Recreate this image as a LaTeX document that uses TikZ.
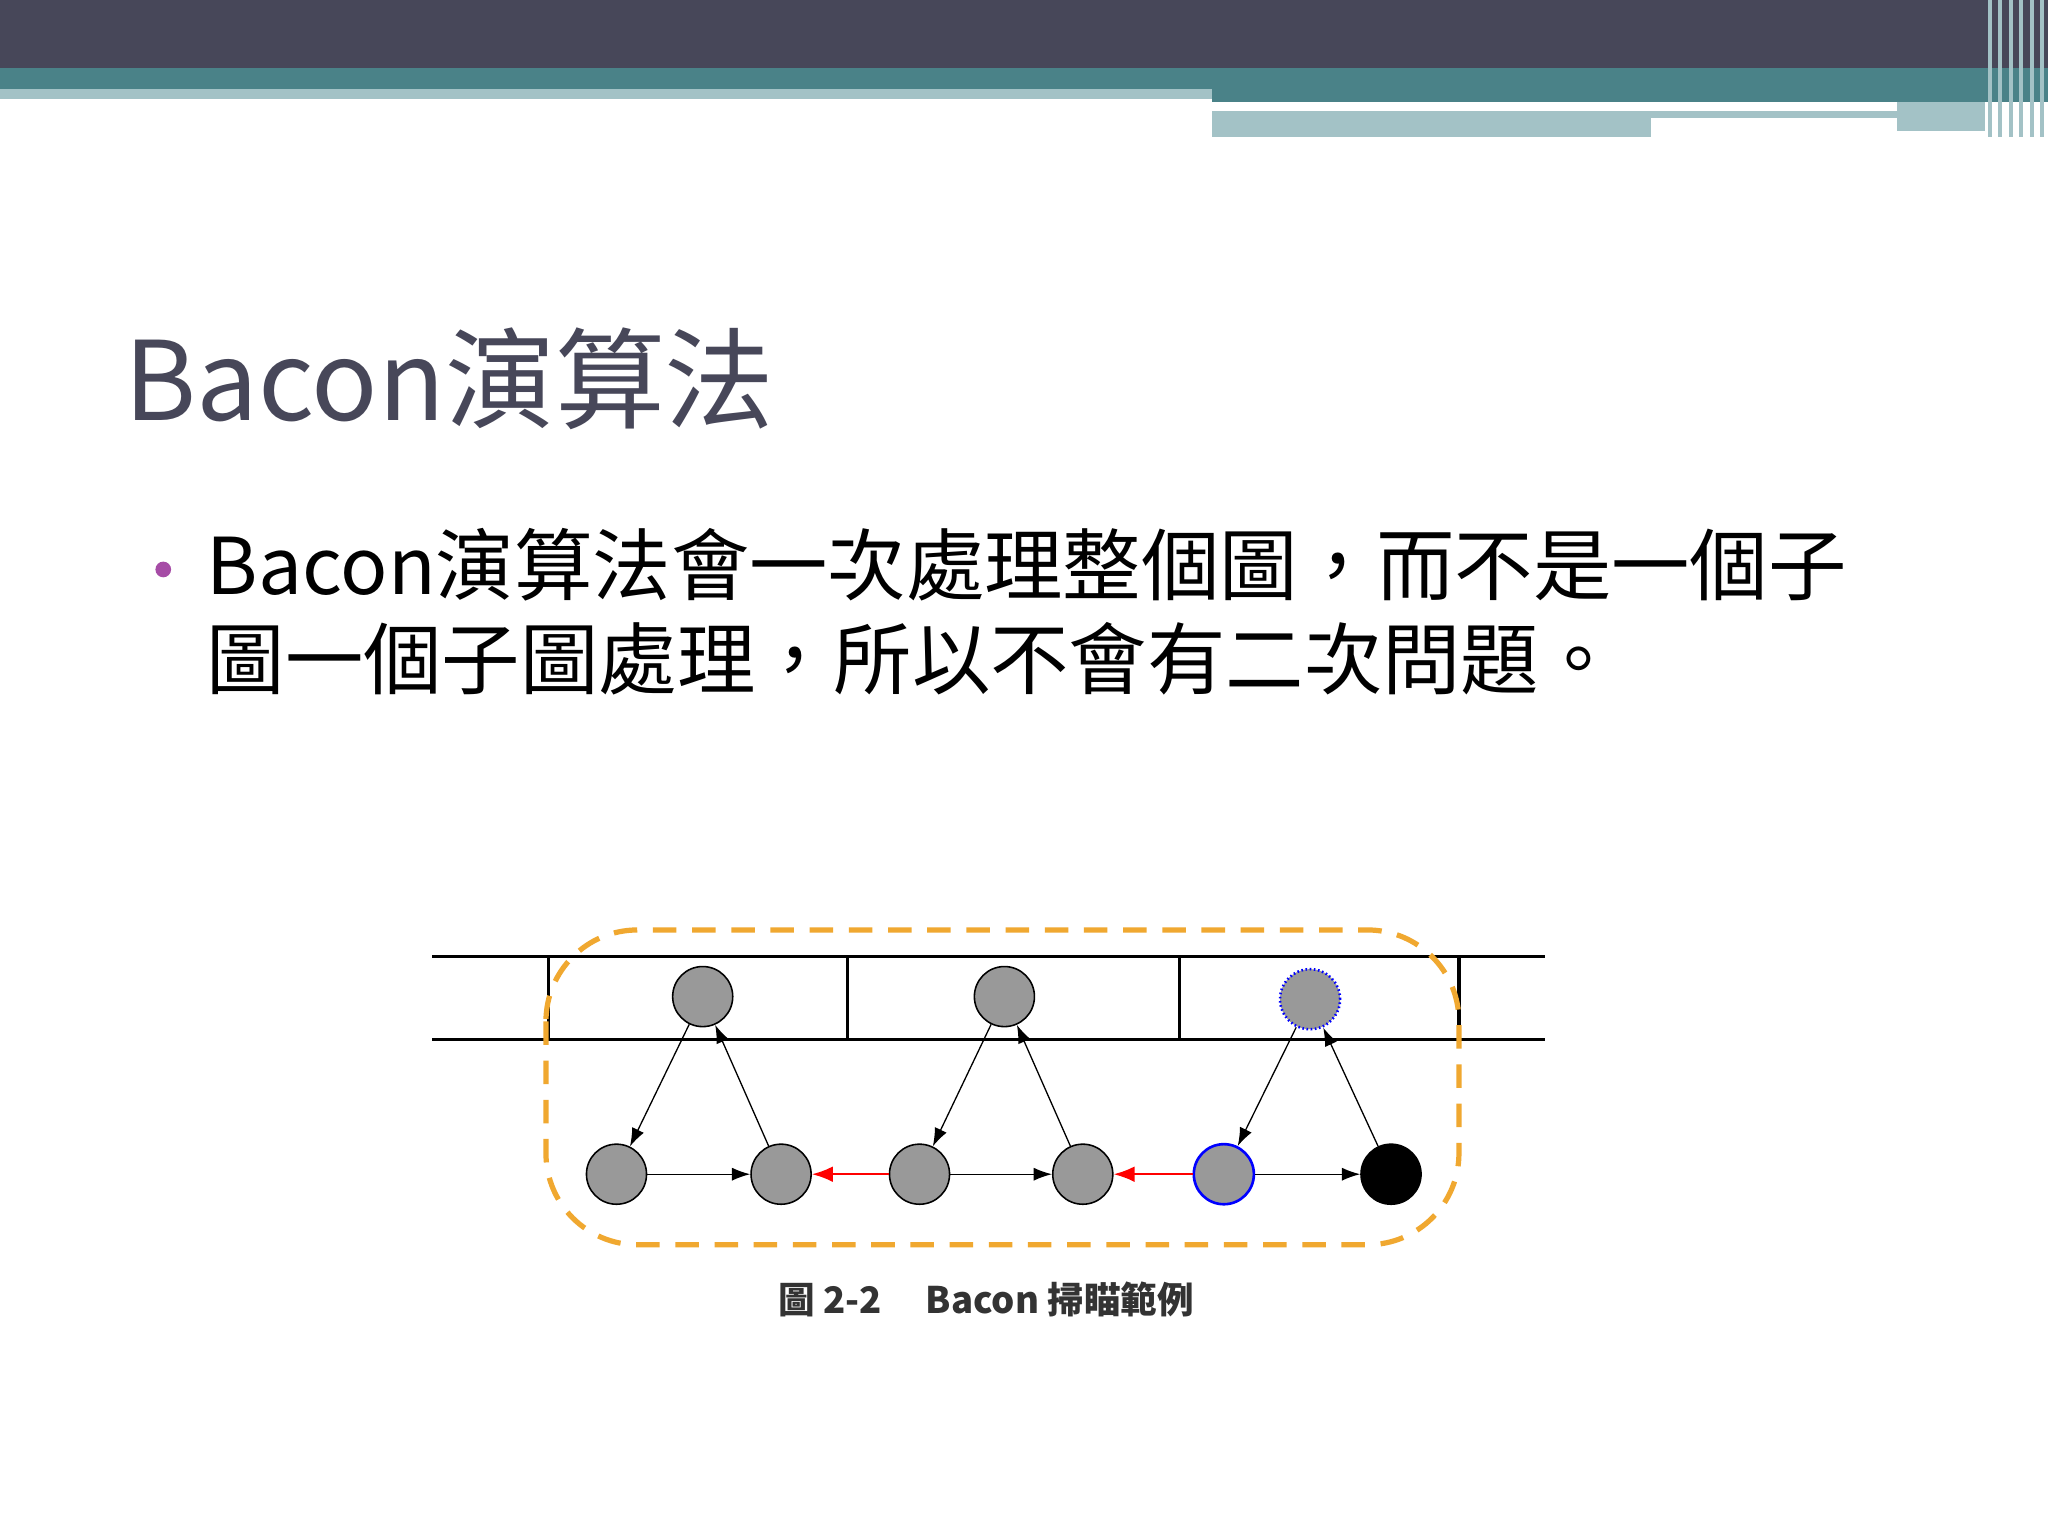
\documentclass[tikz,border=0pt]{standalone}
\usepackage{fontspec}
\setmainfont{Noto Sans CJK TC}
\newfontfamily\cjk{Noto Sans CJK TC}
\usetikzlibrary{arrows.meta}
\definecolor{dark}{HTML}{474759}
\definecolor{teal}{HTML}{4A8288}
\definecolor{lite}{HTML}{A3C2C6}
\definecolor{org}{HTML}{F0A830}
\definecolor{ngray}{HTML}{999999}
\tikzset{
 nd/.style={circle,draw=black,fill=ngray,minimum size=23pt,inner sep=0pt,line width=0.6pt},
 ar/.style={-{Latex[length=7pt,width=5pt]},line width=0.5pt},
 rar/.style={-{Latex[length=8pt,width=6pt]},red,line width=0.8pt}
}
\begin{document}
\begin{tikzpicture}[x=0.5pt,y=-0.5pt]
\useasboundingbox[fill=white] (0,0) rectangle (1568,1176);
% header
\fill[dark] (0,0) rectangle (1568,52);
\fill[teal] (0,52) rectangle (1568,68);
\fill[teal] (928,68) rectangle (1568,78);
\fill[lite] (0,68) rectangle (928,76);
\fill[lite] (928,85) rectangle (1452,90);
\fill[lite] (928,90) rectangle (1264,105);
\fill[lite] (1452,78) rectangle (1520,100);
\foreach \x in {1522,1530,1538,1546,1554,1562}{\fill[lite] (\x,0) rectangle ++(3,105);}
% title
\node[anchor=base west,text=dark,font=\fontsize{42}{50}\selectfont,inner sep=0] (title) at (95,322) {Bacon演算法};
\fill[violet!70] (125,436) circle (6) coordinate (dot);
\node[anchor=base west,font=\fontsize{30}{36}\selectfont,inner sep=0] (l1) at (158,455) {Bacon演算法會一次處理整個圖，而不是一個子};
\node[anchor=base west,font=\fontsize{30}{36}\selectfont,inner sep=0] (l2) at (158,527) {圖一個子圖處理，所以不會有二次問題。};
% diagram
\draw[line width=1.2pt] (331,732) -- (1183,732) (331,796) -- (1183,796);
\foreach \x in {420,649,903,1117}{\draw[line width=1.2pt] (\x,732) -- (\x,796);}
\draw[org,line width=2pt,dash pattern=on 9pt off 6pt,rounded corners=35pt] (418,712) rectangle (1117,953);
\node[nd] (t1) at (538,763) {};
\node[nd] (t2) at (769,763) {};
\node[nd,draw=blue,densely dotted,line width=1pt] (t3) at (1003,765) {};
\node[nd] (a) at (472,899) {};
\node[nd] (b) at (598,899) {};
\node[nd] (c) at (704,899) {};
\node[nd] (d) at (829,899) {};
\node[nd,draw=blue,line width=1pt] (e) at (937,899) {};
\node[nd,fill=black] (f) at (1065,899) {};
\draw[ar] (t1) -- (a);
\draw[ar] (b) -- (t1);
\draw[ar] (a) -- (b);
\draw[rar] (c) -- (b);
\draw[ar] (t2) -- (c);
\draw[ar] (d) -- (t2);
\draw[ar] (c) -- (d);
\draw[rar] (e) -- (d);
\draw[ar] (t3) -- (e);
\draw[ar] (f) -- (t3);
\draw[ar] (e) -- (f);
\node[font=\fontsize{14}{16}\selectfont\bfseries,text=black!80] (cap) at (755,995) {圖 2-2\hspace{1.2em}Bacon 掃瞄範例};
\end{tikzpicture}
\end{document}
